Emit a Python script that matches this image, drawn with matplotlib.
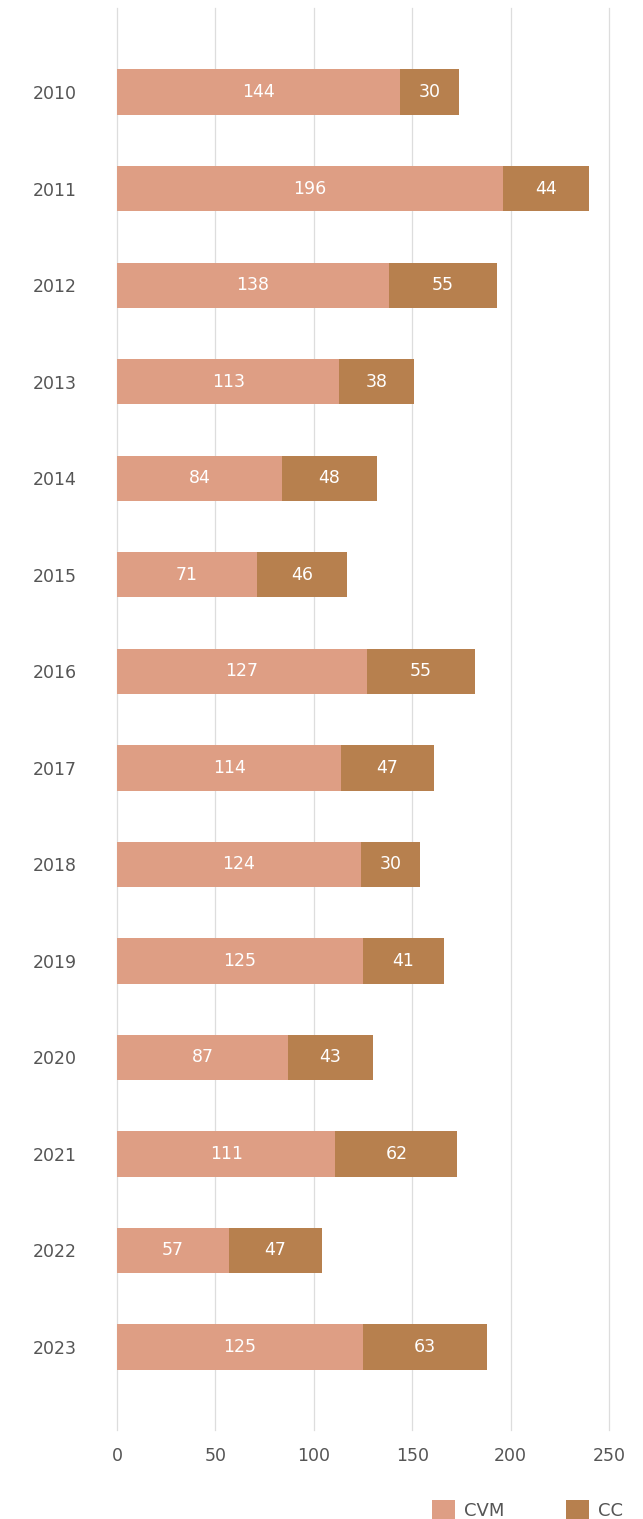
import matplotlib.pyplot as plt
import numpy as np

years = ["2010", "2011", "2012", "2013", "2014", "2015", "2016",
         "2017", "2018", "2019", "2020", "2021", "2022", "2023"]
cvm = [144, 196, 138, 113, 84, 71, 127, 114, 124, 125, 87, 111, 57, 125]
cc = [30, 44, 55, 38, 48, 46, 55, 47, 30, 41, 43, 62, 47, 63]
xticks = [0, 50, 100, 150, 200, 250]

col_cvm = "#DE9E84"
col_cc = "#B7804E"

plt.rcParams["font.family"] = ["DejaVu Sans"]

fig = plt.figure(figsize=(6.43, 15.19), dpi=100)
ax = fig.add_axes([0.182, 0.0586, 0.765, 0.936])

y = np.arange(len(years))
b1 = ax.barh(y, cvm, height=0.47, color=col_cvm, label="CVM", zorder=2)
b2 = ax.barh(y, cc, left=cvm, height=0.47, color=col_cc, label="CC", zorder=2)

# labels inside each segment
for i in range(len(years)):
    ax.text(cvm[i] / 2, y[i], str(cvm[i]), ha="center", va="center",
            color="white", fontsize=12.5, zorder=3)
    ax.text(cvm[i] + cc[i] / 2, y[i], str(cc[i]), ha="center", va="center",
            color="white", fontsize=12.5, zorder=3)

ax.set_xlim(0, 250)
ax.set_ylim(13.86, -0.87)
ax.set_xticks(xticks)
ax.set_yticks(y)
ax.set_yticklabels(years)
ax.tick_params(axis="both", length=0, colors="#555555", labelsize=12.5)
ax.tick_params(axis="y", pad=29)
ax.tick_params(axis="x", pad=12)
ax.grid(axis="x", color="#DDDDDD", linewidth=0.9, zorder=0)
for line in ax.get_xgridlines():
    line.set_clip_on(False)
for s in ax.spines.values():
    s.set_visible(False)

fig.legend(handles=[b1, b2], labels=["CVM", "CC"], loc="center right",
           bbox_to_anchor=(0.969, 0.0058), ncol=2, frameon=False,
           fontsize=13, handlelength=1.27, handleheight=1.27,
           handletextpad=0.5, columnspacing=3.4, borderpad=0,
           borderaxespad=0, labelcolor="#555555")

fig.savefig("out.png", dpi=100)
